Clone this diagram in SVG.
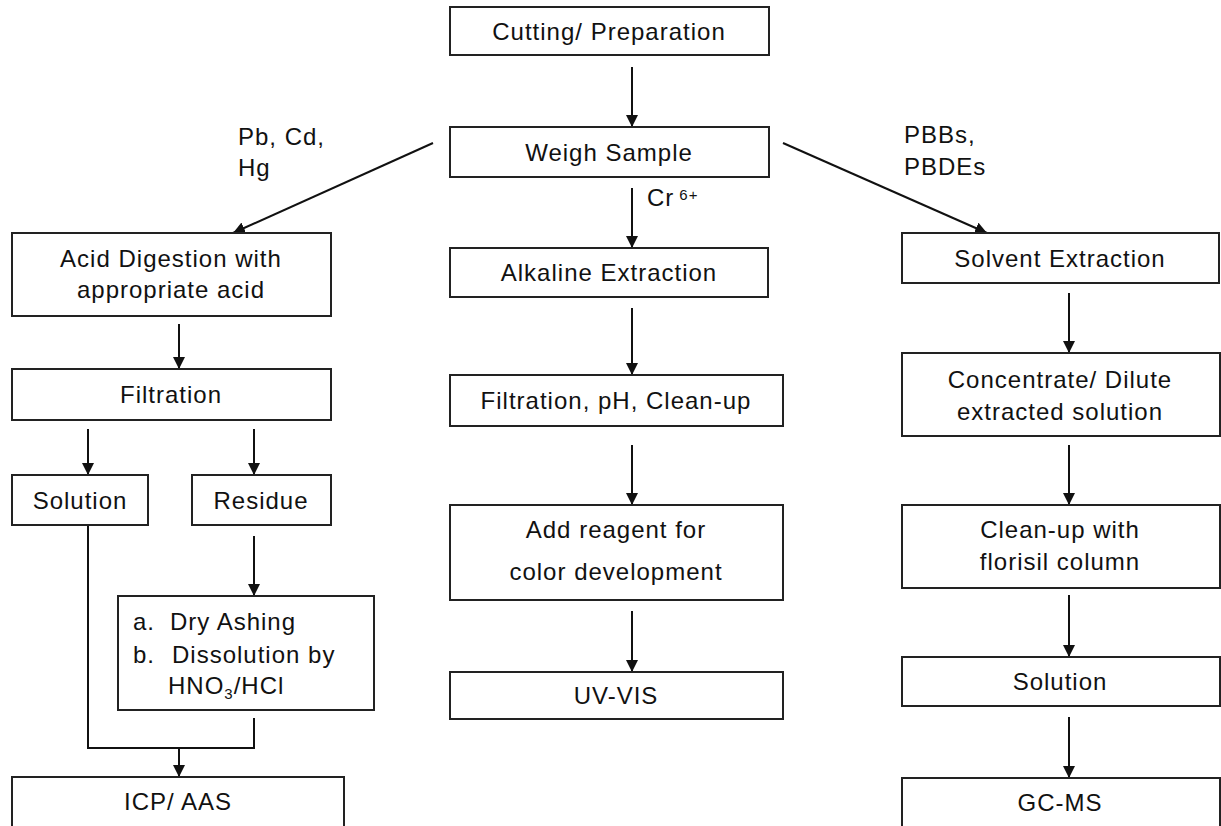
<svg xmlns="http://www.w3.org/2000/svg" width="1221" height="826" viewBox="0 0 1221 826">
<defs>
<marker id="ah" viewBox="0 0 12 12" refX="12" refY="6" markerWidth="12" markerHeight="13" markerUnits="userSpaceOnUse" orient="auto">
<path d="M0,0 L12,6 L0,12 z" fill="#111"/>
</marker>
<style>
.box{fill:#fff;stroke:#222;stroke-width:2}
.t{font-family:"Liberation Sans",Arial,sans-serif;font-size:24px;letter-spacing:1px;fill:#111;text-anchor:middle}
.l{font-family:"Liberation Sans",Arial,sans-serif;font-size:24px;letter-spacing:1px;fill:#111}
.c{fill:none;stroke:#111;stroke-width:2}
.a{fill:none;stroke:#111;stroke-width:2;marker-end:url(#ah)}
</style>
</defs>
<rect width="1221" height="826" fill="#fff"/>
<g id="connectors">
<line class="a" x1="632" y1="67" x2="632" y2="127"/>
<line class="a" x1="632" y1="188" x2="632" y2="248"/>
<line class="a" x1="433" y1="143" x2="233" y2="233"/>
<line class="a" x1="783" y1="143" x2="987" y2="233"/>
<line class="a" x1="179" y1="324" x2="179" y2="369"/>
<line class="a" x1="88" y1="429" x2="88" y2="475"/>
<line class="a" x1="254" y1="429" x2="254" y2="475"/>
<line class="a" x1="254" y1="536" x2="254" y2="596"/>
<polyline class="c" points="88,525 88,748 254,748 254,718"/>
<line class="a" x1="179" y1="748" x2="179" y2="777"/>
<line class="a" x1="632" y1="308" x2="632" y2="375"/>
<line class="a" x1="632" y1="445" x2="632" y2="505"/>
<line class="a" x1="632" y1="611" x2="632" y2="672"/>
<line class="a" x1="1069" y1="293" x2="1069" y2="353"/>
<line class="a" x1="1069" y1="445" x2="1069" y2="505"/>
<line class="a" x1="1069" y1="595" x2="1069" y2="657"/>
<line class="a" x1="1069" y1="717" x2="1069" y2="778"/>
<text class="l" x="238" y="145">Pb, Cd,</text>
<text class="l" x="238" y="176">Hg</text>
<text class="l" x="904" y="143">PBBs,</text>
<text class="l" x="904" y="175">PBDEs</text>
<text class="l" x="647" y="206">Cr<tspan dx="5" dy="-6" style="font-size:15px">6+</tspan></text>
</g>
<g id="cutting"><rect class="box" x="450" y="7" width="319" height="48"/><text class="t" x="609" y="40">Cutting/ Preparation</text></g>
<g id="weigh"><rect class="box" x="450" y="127" width="319" height="50"/><text class="t" x="609" y="161">Weigh Sample</text></g>
<g id="acid"><rect class="box" x="12" y="233" width="319" height="83"/><text class="t" x="171" y="267">Acid Digestion with</text><text class="t" x="171" y="298">appropriate acid</text></g>
<g id="filtration"><rect class="box" x="12" y="369" width="319" height="51"/><text class="t" x="171" y="403">Filtration</text></g>
<g id="solution-left"><rect class="box" x="12" y="475" width="136" height="50"/><text class="t" x="80" y="509">Solution</text></g>
<g id="residue"><rect class="box" x="192" y="475" width="139" height="50"/><text class="t" x="261" y="509">Residue</text></g>
<g id="ashing"><rect class="box" x="118" y="596" width="256" height="114"/>
<text class="l" x="133" y="630">a.</text><text class="l" x="170" y="630">Dry Ashing</text>
<text class="l" x="133" y="663">b.</text><text class="l" x="172" y="663">Dissolution by</text>
<text class="l" x="168" y="694">HNO<tspan dy="5" style="font-size:15px">3</tspan><tspan dy="-5">/HCl</tspan></text></g>
<g id="icp"><rect class="box" x="12" y="777" width="332" height="60"/><text class="t" x="178" y="810">ICP/ AAS</text></g>
<g id="alkaline"><rect class="box" x="450" y="248" width="318" height="49"/><text class="t" x="609" y="281">Alkaline Extraction</text></g>
<g id="filtration-ph"><rect class="box" x="450" y="375" width="333" height="51"/><text class="t" x="616" y="409">Filtration, pH, Clean-up</text></g>
<g id="reagent"><rect class="box" x="450" y="505" width="333" height="95"/><text class="t" x="616" y="538">Add reagent for</text><text class="t" x="616" y="580">color development</text></g>
<g id="uvvis"><rect class="box" x="450" y="672" width="333" height="47"/><text class="t" x="616" y="704">UV-VIS</text></g>
<g id="solvent"><rect class="box" x="902" y="233" width="317" height="50"/><text class="t" x="1060" y="267">Solvent Extraction</text></g>
<g id="concentrate"><rect class="box" x="902" y="353" width="318" height="83"/><text class="t" x="1060" y="388">Concentrate/ Dilute</text><text class="t" x="1060" y="420">extracted solution</text></g>
<g id="cleanup"><rect class="box" x="902" y="505" width="318" height="83"/><text class="t" x="1060" y="538">Clean-up with</text><text class="t" x="1060" y="570">florisil column</text></g>
<g id="solution-right"><rect class="box" x="902" y="657" width="318" height="49"/><text class="t" x="1060" y="690">Solution</text></g>
<g id="gcms"><rect class="box" x="902" y="778" width="318" height="60"/><text class="t" x="1060" y="811">GC-MS</text></g>
</svg>
